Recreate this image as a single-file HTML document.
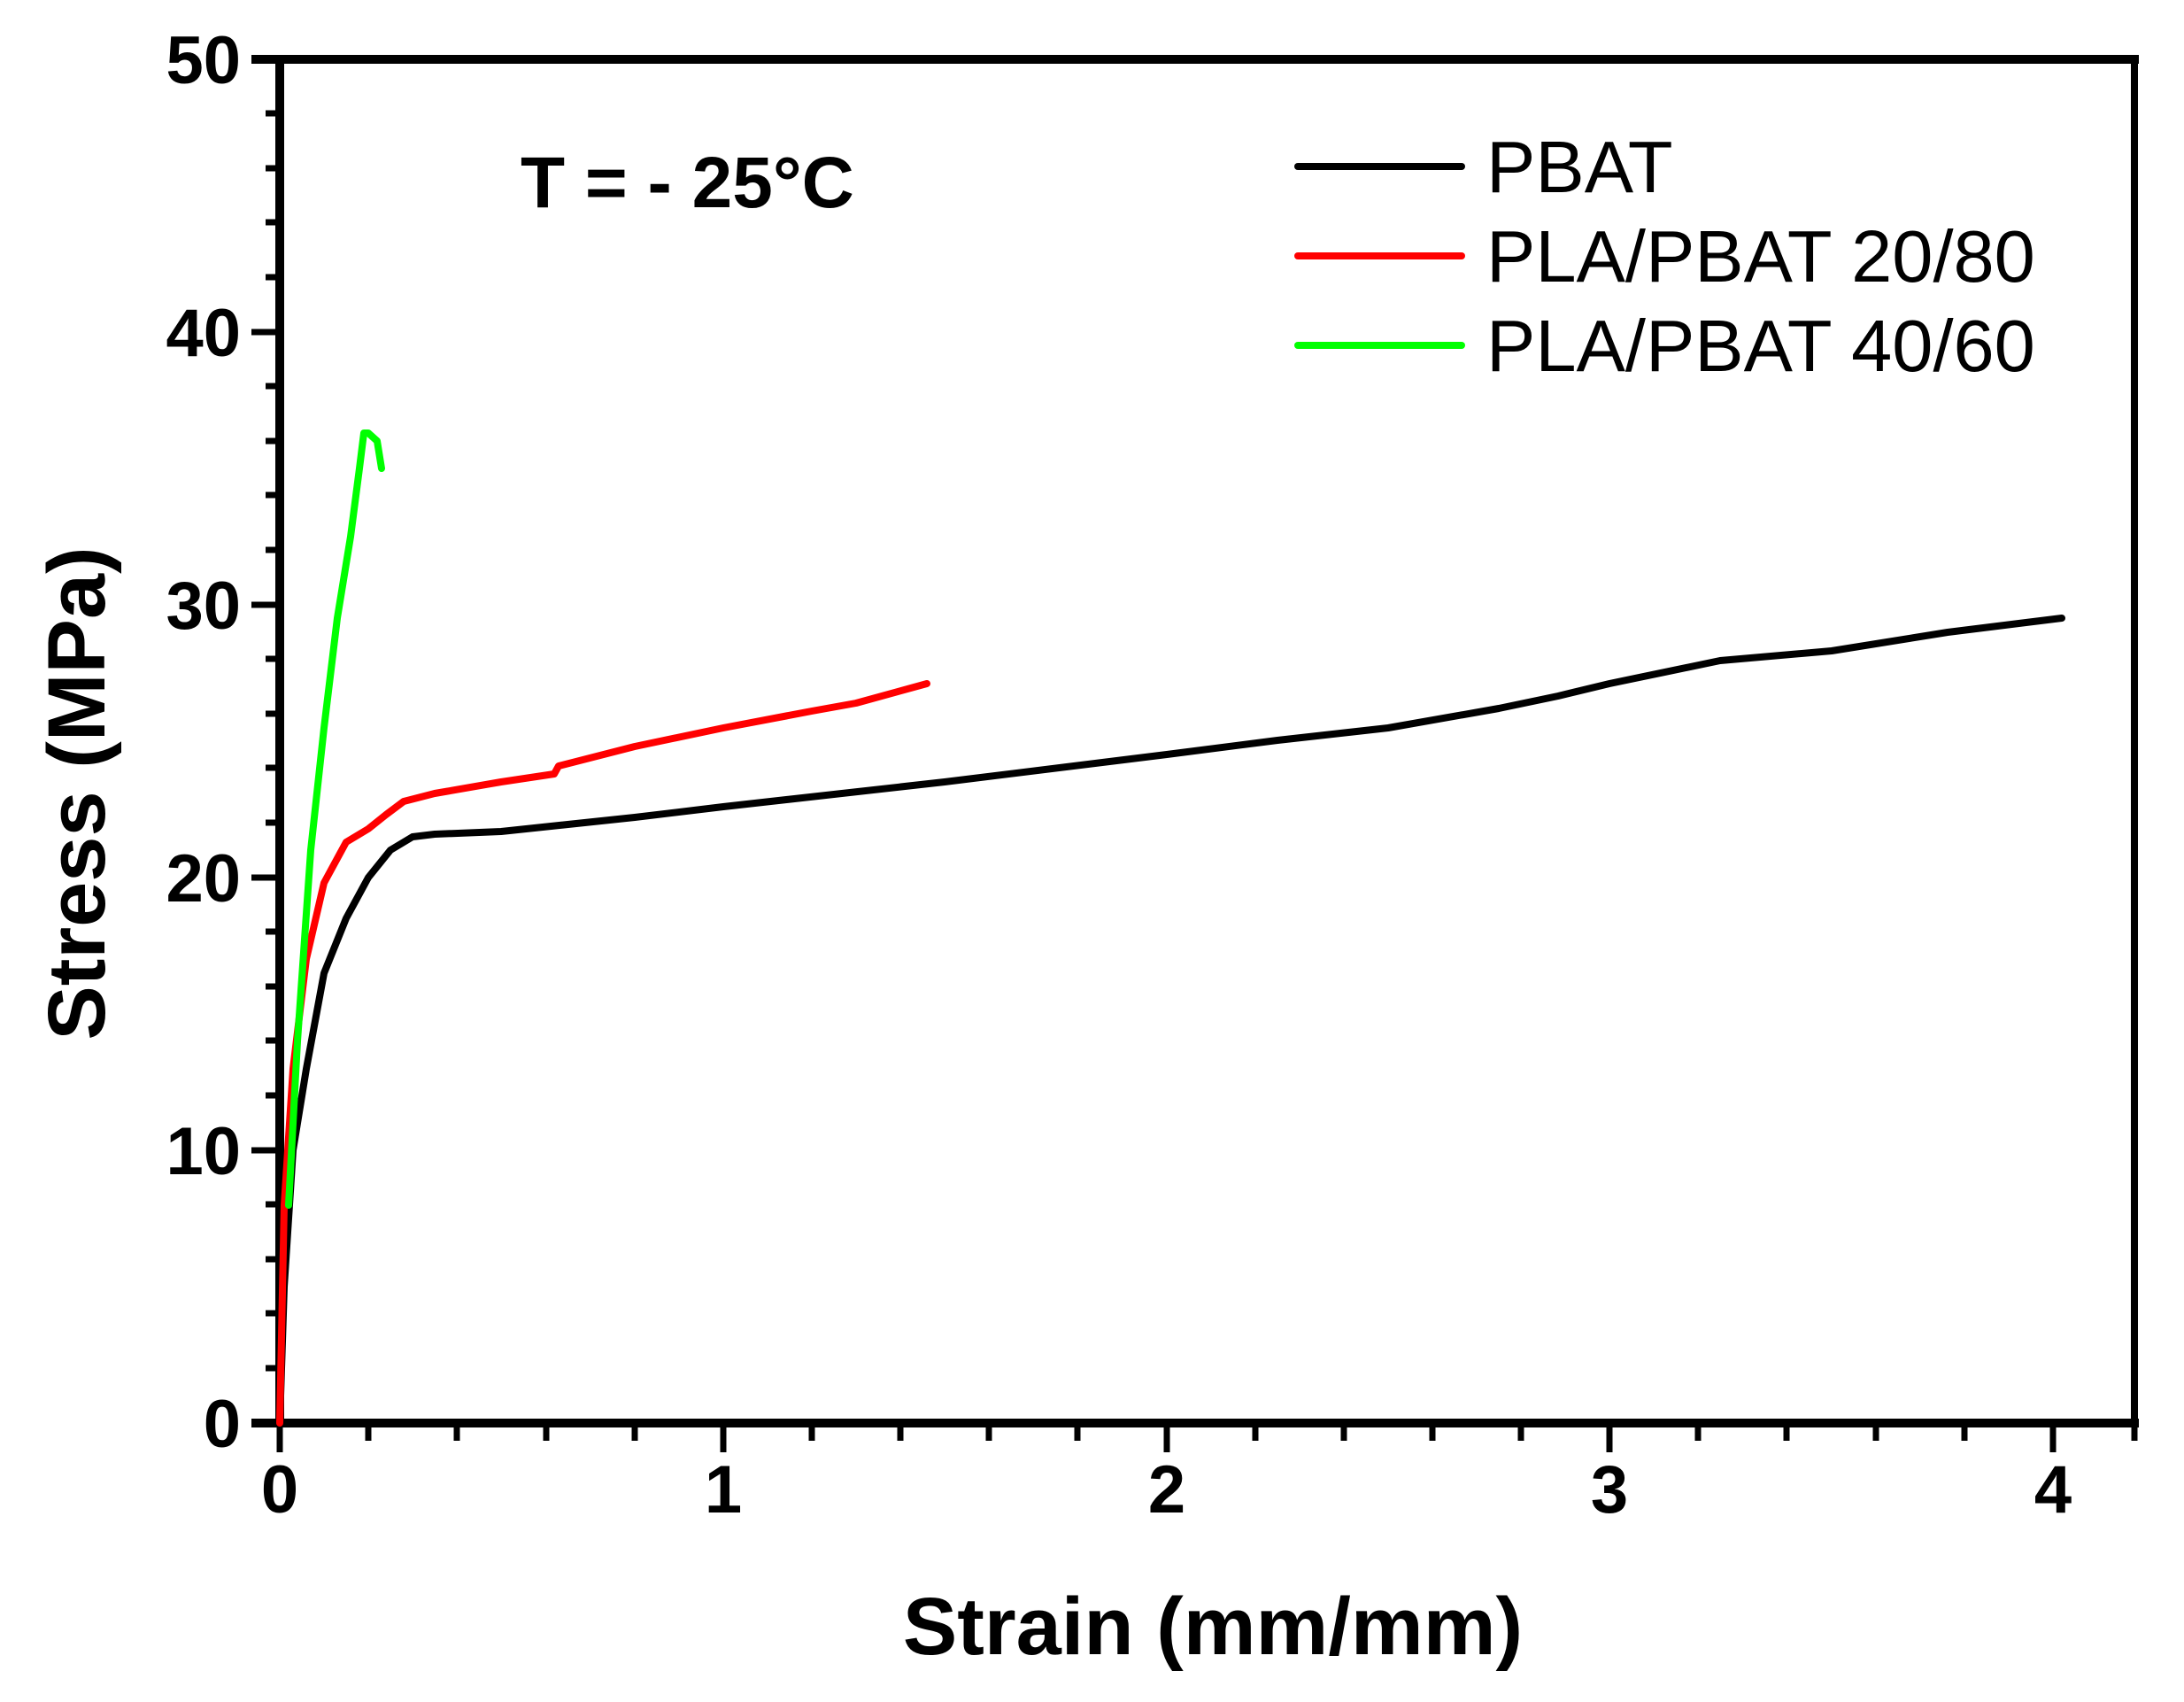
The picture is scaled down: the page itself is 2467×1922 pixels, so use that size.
<!DOCTYPE html>
<html><head><meta charset="utf-8"><style>
html,body{margin:0;padding:0;background:#fff;}
svg{display:block;}
text{font-family:"Liberation Sans",Arial,sans-serif;fill:#000;}
</style></head><body>
<svg width="2467" height="1922" viewBox="0 0 2467 1922" xmlns="http://www.w3.org/2000/svg">
<rect width="2467" height="1922" fill="#fff"/>
<g stroke="#000" stroke-width="7" fill="none">
<path d="M300 128H316M300 190H316M300 251H316M300 313H316
M300 436H316M300 498H316M300 559H316M300 621H316
M300 744H316M300 806H316M300 867H316M300 929H316
M300 1052H316M300 1114H316M300 1175H316M300 1237H316
M300 1360H316M300 1422H316M300 1483H316M300 1545H316"/>
<path d="M284 67H316M284 375H316M284 683H316M284 991H316M284 1299H316M284 1607H316"/>
<path d="M416 1607V1627M516 1607V1627M617 1607V1627M717 1607V1627
M917 1607V1627M1017 1607V1627M1117 1607V1627M1217 1607V1627
M1418 1607V1627M1518 1607V1627M1618 1607V1627M1718 1607V1627
M1918 1607V1627M2018 1607V1627M2119 1607V1627M2219 1607V1627M2411 1607V1627"/>
<path d="M316 1607V1640M817 1607V1640M1318 1607V1640M1818 1607V1640M2319 1607V1640"/>
</g>
<rect x="284" y="62" width="2132" height="10" fill="#000"/>
<rect x="311" y="62" width="10" height="1550" fill="#000"/>
<rect x="2407" y="62" width="8" height="1550" fill="#000"/>
<rect x="284" y="1602" width="2132" height="10" fill="#000"/>

<g font-size="76" font-weight="bold" text-anchor="end">
<text x="272" y="94">50</text>
<text x="272" y="402">40</text>
<text x="272" y="710">30</text>
<text x="272" y="1018">20</text>
<text x="272" y="1326">10</text>
<text x="272" y="1634">0</text>
</g>
<g font-size="76" font-weight="bold" text-anchor="middle">
<text x="316" y="1708">0</text>
<text x="817" y="1708">1</text>
<text x="1318" y="1708">2</text>
<text x="1818" y="1708">3</text>
<text x="2319" y="1708">4</text>
</g>
<text x="1370" y="1868" font-size="92" font-weight="bold" text-anchor="middle">Strain (mm/mm)</text>
<text transform="translate(118 896) rotate(-90)" font-size="92" font-weight="bold" text-anchor="middle">Stress (MPa)</text>
<text x="588" y="234" font-size="82" font-weight="bold">T = - 25°C</text>

<g stroke-width="8" stroke-linecap="round" fill="none">
<line x1="1466" y1="188" x2="1651" y2="188" stroke="#000"/>
<line x1="1466" y1="289" x2="1651" y2="289" stroke="#f00"/>
<line x1="1466" y1="390" x2="1651" y2="390" stroke="#0f0"/>
</g>
<g font-size="83">
<text x="1679" y="217">PBAT</text>
<text x="1679" y="318">PLA/PBAT 20/80</text>
<text x="1679" y="419">PLA/PBAT 40/60</text>
</g>

<g fill="none" stroke-width="8" stroke-linejoin="round" stroke-linecap="round">
<polyline stroke="#000" points="316,1607 321,1453 331,1299 346,1207 366,1099 391,1037 416,991 441,960 466,945 491,942 566,939 717,923 817,911 1067,883 1318,852 1443,836 1568,822 1693,800 1760,786 1818,772 1943,746 2069,735 2200,714 2329,698"/>
<polyline stroke="#f00" points="316,1607 321,1361 331,1207 346,1083 366,997 391,951 416,936 436,920 456,905 491,896 566,883 626,874 631,865 717,843 817,822 917,803 967,794 1047,772"/>
<polyline stroke="#0f0" points="326,1361 336,1176 351,960 366,822 381,698 396,606 406,529 411,489 416,489 426,498 431,529"/>
</g>
</svg>
</body></html>
